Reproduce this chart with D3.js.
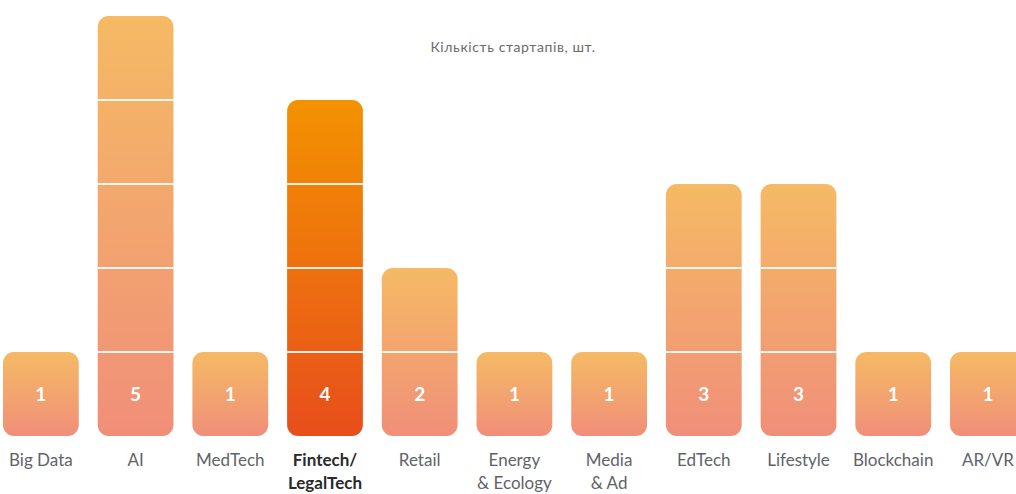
<!DOCTYPE html>
<html>
<head>
<meta charset="utf-8">
<script src="https://cdn.jsdelivr.net/npm/d3@7"></script>
<style>
  html, body { margin: 0; padding: 0; background: #fff; overflow: hidden; }
  svg { display: block; }
</style>
</head>
<body>
<svg id="chart" width="1016" height="494"></svg>
<script>
// Startup counts by sector
const categories = ["Big Data", "AI", "MedTech", "Fintech/\nLegalTech", "Retail", "Energy\n& Ecology", "Media\n& Ad", "EdTech", "Lifestyle", "Blockchain", "AR/VR"];
const counts = [1, 5, 1, 4, 2, 1, 1, 3, 3, 1, 1];
const highlighted = ["Fintech/\nLegalTech"];
const title = "Кількість стартапів, шт.";

const svg = d3.select("#chart");
const fontFamily = "Lato, 'Noto Sans', sans-serif";

const x = d3.scaleBand()
  .domain(categories)
  .range([3, 1025.8])
  .paddingInner(0.2)
  .paddingOuter(0);

const y = d3.scaleLinear()
  .domain([0, 5])
  .range([436, 16]);

// Gradients: warm default and strong orange for the highlighted sector
const defs = svg.append("defs");
function addGradient(id, top, bottom) {
  const g = defs.append("linearGradient")
    .attr("id", id)
    .attr("x1", 0).attr("y1", 0).attr("x2", 0).attr("y2", 1);
  g.append("stop").attr("offset", "0%").attr("stop-color", top);
  g.append("stop").attr("offset", "100%").attr("stop-color", bottom);
}
addGradient("grad-base", "#F5BA64", "#F08F79");
addGradient("grad-hi", "#F39200", "#E84E1C");

const data = categories.map((c, i) => ({ category: c, value: counts[i], hi: highlighted.includes(c) }));

const bars = svg.append("g").selectAll("g.bar")
  .data(data)
  .join("g")
  .attr("class", "bar");

bars.append("rect")
  .attr("x", d => x(d.category))
  .attr("y", d => y(d.value))
  .attr("width", x.bandwidth())
  .attr("height", d => y(0) - y(d.value))
  .attr("rx", 11)
  .attr("ry", 11)
  .attr("fill", d => d.hi ? "url(#grad-hi)" : "url(#grad-base)");

// White dividers between each single startup unit
bars.selectAll("line.unit")
  .data(d => d3.range(1, d.value).map(k => ({ category: d.category, k })))
  .join("line")
  .attr("class", "unit")
  .attr("x1", d => x(d.category))
  .attr("x2", d => x(d.category) + x.bandwidth())
  .attr("y1", d => y(d.k))
  .attr("y2", d => y(d.k))
  .attr("stroke", "#fff")
  .attr("stroke-opacity", 0.9)
  .attr("stroke-width", 2);

// Value inside the bottom unit
bars.append("text")
  .attr("x", d => x(d.category) + x.bandwidth() / 2)
  .attr("y", (y(0) + y(1)) / 2)
  .attr("dy", "0.36em")
  .attr("text-anchor", "middle")
  .attr("fill", "#fff")
  .attr("font-family", fontFamily)
  .attr("font-weight", 700)
  .attr("font-size", 19)
  .text(d => d.value);

// Category labels under the bars
const labels = svg.append("g").selectAll("text.cat")
  .data(data)
  .join("text")
  .attr("class", "cat")
  .attr("x", d => x(d.category) + x.bandwidth() / 2)
  .attr("y", 466)
  .attr("text-anchor", "middle")
  .attr("font-family", fontFamily)
  .attr("font-size", 17)
  .attr("font-weight", d => d.hi ? 700 : 400)
  .attr("fill", d => d.hi ? "#2a2a2a" : "#5f6368");

labels.selectAll("tspan")
  .data(d => d.category.split("\n").map((t, i) => ({ t, i, cx: x(d.category) + x.bandwidth() / 2 })))
  .join("tspan")
  .attr("x", d => d.cx)
  .attr("dy", d => d.i === 0 ? 0 : 23)
  .text(d => d.t);

svg.append("text")
  .attr("x", 513)
  .attr("y", 52)
  .attr("text-anchor", "middle")
  .attr("font-family", fontFamily)
  .attr("font-size", 14)
  .attr("letter-spacing", 0.6)
  .attr("fill", "#6b6b6b")
  .text(title);
</script>
</body>
</html>
